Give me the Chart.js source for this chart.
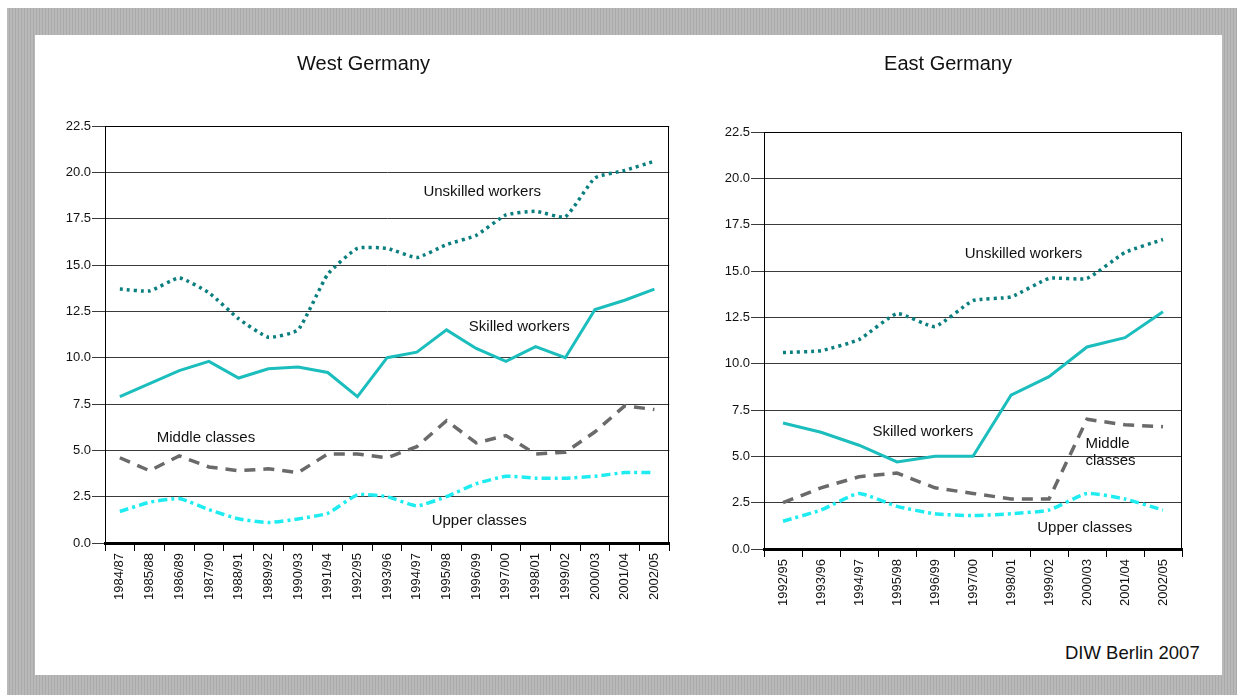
<!DOCTYPE html>
<html>
<head>
<meta charset="utf-8">
<title>West Germany / East Germany</title>
<script src="https://cdn.jsdelivr.net/npm/chart.js@4.4.1/dist/chart.umd.min.js"></script>
<style>
    html, body { margin: 0; padding: 0; background: #fff; }
    body {
        width: 1237px;
        height: 695px;
        position: relative;
        overflow: hidden;
        font-family: 'Liberation Sans', Arial, sans-serif;
    }
    .frame {
        position: absolute;
        left: 7px; top: 8px;
        width: 1230px; height: 687px;
        background: repeating-linear-gradient(90deg, #b9b9b9 0 2px, #aaaaaa 2px 3px);
    }
    .panel {
        position: absolute;
        left: 35px; top: 35px;
        width: 1187px; height: 640px;
        background: #fff;
    }
    .box { position: absolute; }
    #westBox { left: 55px; top: 40px; width: 617px; height: 573px; }
    #eastBox { left: 714px; top: 40px; width: 478px; height: 579px; }
    .source {
        position: absolute;
        left: 1065px; top: 642px;
        font-size: 18.5px;
        color: #111;
    }
</style>
</head>
<body>
<div class="frame"></div>
<div class="panel"></div>
<div class="box" id="westBox"><canvas id="westChart"></canvas></div>
<div class="box" id="eastBox"><canvas id="eastChart"></canvas></div>
<div class="source">DIW Berlin 2007</div>

<script>
// ================================
// Data
// ================================
const yTicks = [0, 2.5, 5, 7.5, 10, 12.5, 15, 17.5, 20, 22.5];

const westPeriods = ['1984/87', '1985/88', '1986/89', '1987/90', '1988/91', '1989/92', '1990/93',
    '1991/94', '1992/95', '1993/96', '1994/97', '1995/98', '1996/99', '1997/00', '1998/01',
    '1999/02', '2000/03', '2001/04', '2002/05'];
const westUnskilled = [13.7, 13.6, 14.3, 13.5, 12.1, 11.1, 11.5, 14.5, 15.9, 15.9, 15.4, 16.1, 16.6, 17.7, 17.9, 17.6, 19.7, 20.1, 20.6];
const westSkilled = [7.9, 8.6, 9.3, 9.8, 8.9, 9.4, 9.5, 9.2, 7.9, 10.0, 10.3, 11.5, 10.5, 9.8, 10.6, 10.0, 12.6, 13.1, 13.7];
const westMiddle = [4.6, 3.9, 4.7, 4.1, 3.9, 4.0, 3.8, 4.8, 4.8, 4.6, 5.2, 6.6, 5.4, 5.8, 4.8, 4.9, 6.0, 7.4, 7.2];
const westUpper = [1.7, 2.2, 2.4, 1.8, 1.3, 1.1, 1.3, 1.6, 2.6, 2.5, 2.0, 2.5, 3.2, 3.6, 3.5, 3.5, 3.6, 3.8, 3.8];

const eastPeriods = ['1992/95', '1993/96', '1994/97', '1995/98', '1996/99', '1997/00',
    '1998/01', '1999/02', '2000/03', '2001/04', '2002/05'];
const eastUnskilled = [10.6, 10.7, 11.3, 12.7, 12.0, 13.4, 13.6, 14.6, 14.6, 16.0, 16.7];
const eastSkilled = [6.8, 6.3, 5.6, 4.7, 5.0, 5.0, 8.3, 9.3, 10.9, 11.4, 12.8];
const eastMiddle = [2.5, 3.3, 3.9, 4.1, 3.3, 3.0, 2.7, 2.7, 7.0, 6.7, 6.6];
const eastUpper = [1.5, 2.1, 3.0, 2.3, 1.9, 1.8, 1.9, 2.1, 3.0, 2.7, 2.1];

// series names written inside the plot (category index / value where they sit)
const westNotes = [
    { lines: ['Unskilled workers'], at: [12.2, 18.95] },
    { lines: ['Skilled workers'], at: [13.45, 11.67] },
    { lines: ['Middle classes'], at: [2.9, 5.68] },
    { lines: ['Upper classes'], at: [12.1, 1.2] }
];
const eastNotes = [
    { lines: ['Unskilled workers'], at: [6.33, 15.95] },
    { lines: ['Skilled workers'], at: [3.68, 6.3] },
    { lines: ['Middle', 'classes'], at: [7.96, 5.7], align: 'left' },
    { lines: ['Upper classes'], at: [7.94, 1.15] }
];

const FONT = "'Liberation Sans', Arial, sans-serif";

// ================================
// Plugins
// ================================
const plotFrame = {
    id: 'plotFrame',
    beforeDatasetsDraw(chart) {
        const { ctx, chartArea: a } = chart;
        ctx.save();
        ctx.strokeStyle = '#000';
        ctx.lineWidth = 1;
        ctx.strokeRect(Math.round(a.left) + 0.5, Math.round(a.top) + 0.5,
            Math.round(a.right - a.left) - 1, Math.round(a.bottom - a.top));
        ctx.restore();
    }
};

const seriesNotes = {
    id: 'seriesNotes',
    afterDatasetsDraw(chart, args, opts) {
        const { ctx, scales } = chart;
        ctx.save();
        ctx.font = '15px ' + FONT;
        ctx.fillStyle = '#111';
        ctx.textBaseline = 'middle';
        (opts.items || []).forEach(note => {
            ctx.textAlign = note.align || 'center';
            const px = scales.x.getPixelForValue(note.at[0]);
            const py = scales.y.getPixelForValue(note.at[1]);
            note.lines.forEach((line, i) => ctx.fillText(line, px, py + i * 17));
        });
        ctx.restore();
    }
};

// ================================
// Chart builder
// ================================
function makeDatasets(unskilled, skilled, middle, upper) {
    return [
        {
            label: 'Unskilled workers',
            data: unskilled,
            borderColor: '#0b7f7f',
            borderWidth: 3.5,
            borderDash: [3, 4],
            tension: 0.15
        },
        {
            label: 'Skilled workers',
            data: skilled,
            borderColor: '#1bbdbd',
            borderWidth: 3,
            tension: 0
        },
        {
            label: 'Middle classes',
            data: middle,
            borderColor: '#6a6a6a',
            borderWidth: 3.5,
            borderDash: [11, 8],
            tension: 0
        },
        {
            label: 'Upper classes',
            data: upper,
            borderColor: '#1eecf0',
            borderWidth: 3.5,
            borderDash: [9, 4, 3, 4],
            tension: 0.15
        }
    ];
}

function createPanel(canvasId, title, periods, datasets, notes, titleBottom, rightPad) {
    const ctx = document.getElementById(canvasId).getContext('2d');

    return new Chart(ctx, {
        type: 'line',
        data: { labels: periods, datasets: datasets },
        options: {
            responsive: true,
            maintainAspectRatio: false,
            animation: false,
            layout: { padding: { left: 0, top: 0, bottom: 0, right: rightPad } },
            elements: { point: { radius: 0 } },
            plugins: {
                legend: { display: false },
                tooltip: { enabled: false },
                title: {
                    display: true,
                    text: title,
                    color: '#111',
                    font: { family: FONT, size: 20, weight: 'normal', lineHeight: 1.2 },
                    padding: { top: 12, bottom: titleBottom }
                },
                seriesNotes: { items: notes }
            },
            scales: {
                x: {
                    offset: true,
                    grid: {
                        offset: true,
                        drawOnChartArea: false,
                        color: '#000',
                        tickLength: 8
                    },
                    border: { display: true, color: '#000', width: 3 },
                    ticks: {
                        autoSkip: false,
                        minRotation: 90,
                        maxRotation: 90,
                        padding: 2,
                        color: '#111',
                        font: { family: FONT, size: 13 }
                    },
                    afterFit: scale => { scale.height = 70; }
                },
                y: {
                    min: 0,
                    max: 22.5,
                    afterBuildTicks: scale => {
                        scale.ticks = yTicks.map(v => ({ value: v }));
                    },
                    grid: {
                        color: '#3a3a3a',
                        lineWidth: 1,
                        tickLength: 13
                    },
                    border: { display: true, color: '#000', width: 1 },
                    ticks: {
                        padding: 1,
                        color: '#111',
                        font: { family: FONT, size: 13 },
                        callback: v => Number(v).toFixed(1)
                    },
                    afterFit: scale => { scale.width = 50; }
                }
            }
        },
        plugins: [plotFrame, seriesNotes]
    });
}

document.addEventListener('DOMContentLoaded', () => {
    createPanel('westChart', 'West Germany', westPeriods,
        makeDatasets(westUnskilled, westSkilled, westMiddle, westUpper), westNotes, 50, 0);
    createPanel('eastChart', 'East Germany', eastPeriods,
        makeDatasets(eastUnskilled, eastSkilled, eastMiddle, eastUpper), eastNotes, 56, 10);
});
</script>
</body>
</html>
